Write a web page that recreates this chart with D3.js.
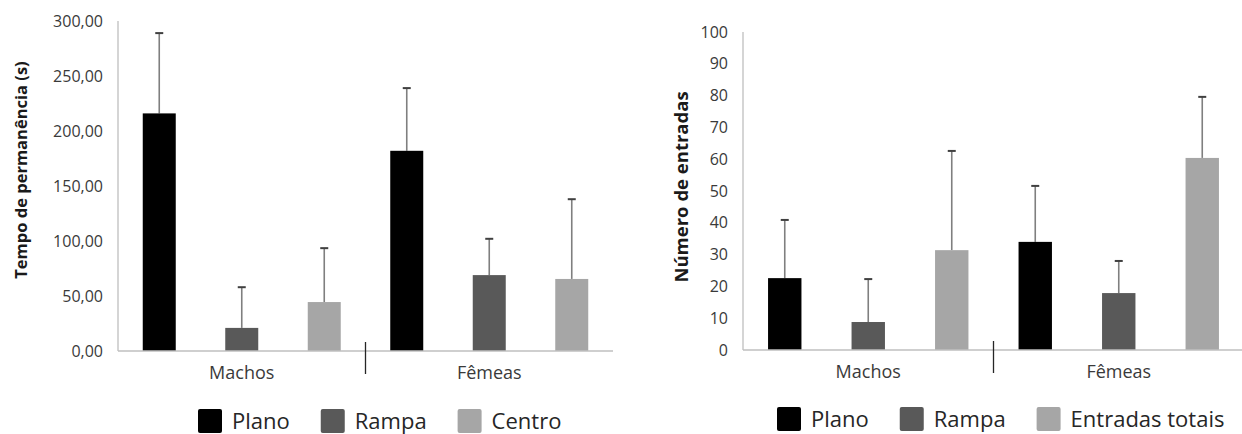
<!DOCTYPE html>
<html lang="pt">
<head>
<meta charset="UTF-8">
<title>Tempo de permanência e número de entradas</title>
<script src="https://d3js.org/d3.v7.min.js"></script>
<style>
    body { margin: 0; background: #fff; }
    svg { display: block; font-family: "Open Sans", Arial, sans-serif; }
    .axis-line { stroke: #bfbfbf; stroke-width: 1.3px; }
    .tick-label { fill: #3a3a3a; font-size: 16px; }
    .cat-label { fill: #3a3a3a; font-size: 18px; }
    .y-title { fill: #1a1a1a; font-weight: bold; }
    .legend-text { fill: #262626; font-size: 22px; }
    .err { stroke: #7f7f7f; stroke-width: 1.6px; }
    .cap { stroke: #404040; stroke-width: 2px; }
</style>
</head>
<body>
<svg id="chart" width="1242" height="434"></svg>
<script>
    // categories and series
    const categories = ["Machos", "Fêmeas"];
    const seriesTempo = ["Plano", "Rampa", "Centro"];
    const seriesEntradas = ["Plano", "Rampa", "Entradas totais"];
    const seriesColors = ["#000000", "#595959", "#a6a6a6"];

    // Tempo de permanência (s): mean and SD per category
    const tempoPlano = [216, 182];
    const tempoPlanoSd = [73, 57];
    const tempoRampa = [21, 69];
    const tempoRampaSd = [37, 33];
    const tempoCentro = [44.5, 65.5];
    const tempoCentroSd = [49, 72.5];
    const tempoTicks = [0, 50, 100, 150, 200, 250, 300];

    // Número de entradas: mean and SD per category
    const entradasPlano = [22.6, 34];
    const entradasPlanoSd = [18.3, 17.6];
    const entradasRampa = [8.8, 17.9];
    const entradasRampaSd = [13.5, 10.1];
    const entradasTotais = [31.4, 60.4];
    const entradasTotaisSd = [31.2, 19.2];
    const entradasTicks = [0, 10, 20, 30, 40, 50, 60, 70, 80, 90, 100];

    const svg = d3.select("#chart");

    function drawPanel(cfg) {
        const g = svg.append("g");

        const x0 = d3.scaleBand().domain(categories).range([cfg.left, cfg.right]);
        const x1 = d3.scaleBand().domain(cfg.series)
            .range([0, x0.bandwidth()])
            .paddingInner(0.6).paddingOuter(0.3);
        const y = d3.scaleLinear().domain([0, cfg.max]).range([cfg.base, cfg.top]);

        // build rows: one per category x series
        const rows = [];
        categories.forEach((c, ci) => {
            cfg.series.forEach((s, si) => {
                rows.push({ cat: c, s: s, si: si, v: cfg.means[si][ci], sd: cfg.sds[si][ci] });
            });
        });

        // axes
        g.append("line").attr("class", "axis-line")
            .attr("x1", cfg.left).attr("x2", cfg.left)
            .attr("y1", y(cfg.max)).attr("y2", y(0));

        g.selectAll(".tick-label").data(cfg.ticks).join("text")
            .attr("class", "tick-label")
            .attr("x", cfg.left - 15)
            .attr("y", d => y(d))
            .attr("dy", "0.35em")
            .attr("text-anchor", "end")
            .text(cfg.format);

        // error bars (drawn first so bars sit above the stem)
        const cx = d => x0(d.cat) + x1(d.s) + x1.bandwidth() / 2;
        g.selectAll(".err").data(rows).join("line")
            .attr("class", "err")
            .attr("x1", cx).attr("x2", cx)
            .attr("y1", d => y(d.v)).attr("y2", d => y(d.v + d.sd));
        g.selectAll(".cap").data(rows).join("line")
            .attr("class", "cap")
            .attr("x1", d => cx(d) - 4).attr("x2", d => cx(d) + 4)
            .attr("y1", d => y(d.v + d.sd)).attr("y2", d => y(d.v + d.sd));

        // bars
        g.selectAll(".bar").data(rows).join("rect")
            .attr("class", "bar")
            .attr("x", d => x0(d.cat) + x1(d.s))
            .attr("y", d => y(d.v))
            .attr("width", x1.bandwidth())
            .attr("height", d => y(0) - y(d.v))
            .attr("fill", d => seriesColors[d.si]);

        g.append("line").attr("class", "axis-line")
            .attr("x1", cfg.left).attr("x2", cfg.right)
            .attr("y1", y(0)).attr("y2", y(0));

        // divider tick between categories
        const mid = x0(categories[1]);
        g.append("line")
            .attr("x1", mid).attr("x2", mid)
            .attr("y1", y(0) - 9).attr("y2", y(0) + 23)
            .attr("stroke", "#262626").attr("stroke-width", 1.3);

        // category labels
        g.selectAll(".cat-label").data(categories).join("text")
            .attr("class", "cat-label")
            .attr("x", d => x0(d) + x0.bandwidth() / 2)
            .attr("y", y(0) + 28)
            .attr("text-anchor", "middle")
            .text(d => d);

        // y title
        g.append("text")
            .attr("class", "y-title")
            .attr("transform", `translate(${cfg.titleX},${cfg.titleY}) rotate(-90)`)
            .attr("text-anchor", "middle")
            .attr("dy", "0.35em")
            .style("font-size", cfg.titleSize + "px")
            .text(cfg.title);

        // legend
        let lx = cfg.legendX;
        cfg.series.forEach((s, i) => {
            g.append("rect")
                .attr("x", lx).attr("y", cfg.legendY)
                .attr("width", 24).attr("height", 24)
                .attr("rx", 2)
                .attr("fill", seriesColors[i]);
            const t = g.append("text")
                .attr("class", "legend-text")
                .attr("x", lx + 34)
                .attr("y", cfg.legendY + 20)
                .text(s);
            lx += 34 + t.node().getComputedTextLength() + 31;
        });
    }

    const fmtComma = d => d3.format(".2f")(d).replace(".", ",");

    drawPanel({
        left: 118, right: 613, top: 21, base: 351, max: 300,
        series: seriesTempo,
        means: [tempoPlano, tempoRampa, tempoCentro],
        sds: [tempoPlanoSd, tempoRampaSd, tempoCentroSd],
        ticks: tempoTicks, format: fmtComma,
        title: "Tempo de permanência (s)", titleX: 21, titleY: 170, titleSize: 16.5,
        legendX: 198, legendY: 409
    });

    drawPanel({
        left: 743, right: 1244, top: 32, base: 350, max: 100,
        series: seriesEntradas,
        means: [entradasPlano, entradasRampa, entradasTotais],
        sds: [entradasPlanoSd, entradasRampaSd, entradasTotaisSd],
        ticks: entradasTicks, format: d => String(d),
        title: "Número de entradas", titleX: 682, titleY: 187, titleSize: 18.5,
        legendX: 777, legendY: 407
    });
</script>
</body>
</html>
